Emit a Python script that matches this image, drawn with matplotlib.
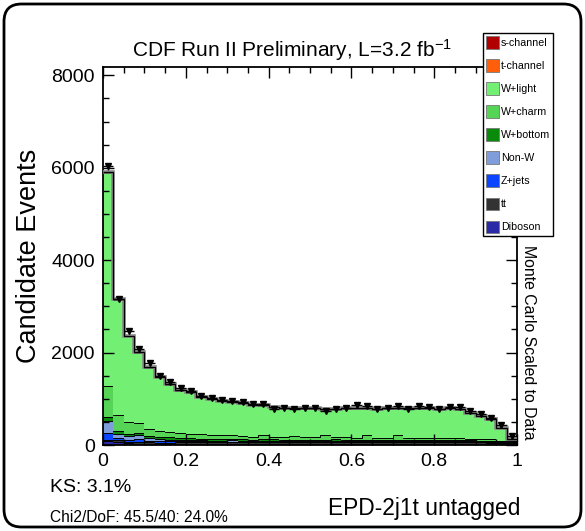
import numpy as np
import matplotlib
matplotlib.use('Agg')
import matplotlib.pyplot as plt
from matplotlib.patches import Patch, FancyBboxPatch
from matplotlib.ticker import MultipleLocator

plt.rcParams['font.family'] = ['Liberation Sans', 'DejaVu Sans']
plt.rcParams['mathtext.fontset'] = 'custom'
plt.rcParams['mathtext.rm'] = 'Liberation Sans'
plt.rcParams['mathtext.it'] = 'Liberation Sans'

# 40 bins of the EPD discriminant
edges = np.linspace(0, 1, 41)

diboson = [80, 60, 35, 30, 25, 22, 20, 20, 18, 18, 16, 16, 15, 15, 15, 14, 14, 14, 13, 13,
           13, 13, 12, 12, 12, 12, 12, 12, 12, 12, 12, 12, 12, 12, 12, 12, 10, 10, 8, 6]
ttbar = [20, 45, 25, 31, 30, 30, 32, 35, 38, 40, 42, 44, 45, 46, 46, 47, 47, 48, 48, 48,
         49, 49, 49, 50, 50, 50, 50, 50, 50, 50, 50, 50, 50, 50, 49, 48, 46, 44, 40, 32]
zjets = [165, 50, 45, 74, 40, 30, 26, 22, 20, 18, 16, 15, 14, 14, 13, 12, 12, 12, 11, 11,
         10, 10, 10, 10, 10, 10, 10, 9, 9, 9, 9, 9, 8, 8, 8, 8, 7, 6, 5, 4]
nonw = [255, 85, 87, 87, 60, 45, 40, 30, 25, 22, 20, 18, 25, 12, 10, 15, 20, 10, 8, 15,
        10, 8, 25, 10, 8, 10, 12, 10, 15, 8, 10, 15, 8, 8, 10, 8, 8, 15, 6, 4]
wbottom = [95, 60, 52, 44, 50, 45, 45, 42, 40, 40, 38, 36, 36, 35, 34, 33, 33, 32, 32, 31,
           31, 30, 30, 30, 29, 29, 29, 28, 28, 28, 28, 27, 27, 27, 26, 25, 23, 21, 17, 12]
wcharm = [653, 343, 253, 203, 148, 129, 125, 117, 103, 105, 82, 78, 72, 71, 60, 101, 52, 62, 88, 60,
          65, 97, 38, 52, 51, 96, 43, 47, 93, 49, 47, 43, 45, 45, 40, 39, 31, 24, 19, 22]
wlight = [4627, 2495, 1852, 1530, 1320, 1169, 1021, 913, 885, 791, 772, 744, 720, 699, 684, 630, 629, 624, 597, 609,
          604, 560, 613, 618, 622, 575, 621, 626, 580, 626, 631, 626, 627, 632, 622, 553, 499, 431, 271, 37]
tchan = [14, 10, 9, 9, 8, 8, 8, 7, 7, 7, 7, 7, 6, 6, 6, 6, 6, 6, 6, 6,
         6, 6, 6, 6, 6, 6, 6, 6, 6, 6, 6, 6, 6, 6, 6, 5, 5, 4, 3, 2]
schan = [3, 2, 2, 2, 2, 2, 2, 2, 2, 2, 2, 2, 2, 2, 2, 2, 2, 2, 2, 2,
         2, 2, 2, 2, 2, 2, 2, 2, 2, 2, 2, 2, 2, 2, 2, 2, 1, 1, 1, 1]

data = [6030, 3170, 2475, 2080, 1770, 1500, 1370, 1240, 1173, 1064, 1020, 980, 960, 933, 878, 883, 789, 802, 789, 802,
        796, 745, 789, 802, 855, 850, 789, 802, 850, 789, 850, 824, 789, 824, 824, 745, 665, 592, 430, 185]

# bottom to top of the stack
stack = [
    ('Diboson', diboson, '#2a2aa8'),
    ('tt', ttbar, '#333333'),
    ('Z+jets', zjets, '#0a46ff'),
    ('Non-W', nonw, '#7f9ddb'),
    ('W+bottom', wbottom, '#0a8a0a'),
    ('W+charm', wcharm, '#56d456'),
    ('W+light', wlight, '#73f073'),
    ('t-channel', tchan, '#ff5f0a'),
    ('s-channel', schan, '#b00000'),
]

W, H = 585, 531
fig = plt.figure(figsize=(W / 100, H / 100), dpi=100)
ax = fig.add_axes([103 / W, 1 - 445 / H, (517 - 103) / W, (445 - 67) / H])

base = np.zeros(40)
for name, vals, col in stack:
    top = base + np.array(vals)
    ax.stairs(top, edges, baseline=base, fill=True, color=col, lw=0)
    ax.stairs(top, edges, baseline=None, color='black', lw=0.7)
    base = top

ax.stairs(base, edges, baseline=None, color='#888888', lw=2.6, zorder=3)
ax.stairs(base, edges, baseline=None, color='black', lw=0.9, zorder=4)

centers = 0.5 * (edges[:-1] + edges[1:])
data = np.array(data)
ax.errorbar(centers, data, yerr=np.sqrt(data), xerr=0.0125, fmt='v', color='black',
            ms=4.5, lw=1.0, capsize=0, zorder=5)

ax.set_xlim(0, 1)
ax.set_ylim(0, 8180)
ax.set_xticks([0, 0.2, 0.4, 0.6, 0.8, 1.0])
ax.set_xticklabels(['0', '0.2', '0.4', '0.6', '0.8', '1'])
ax.set_yticks([0, 2000, 4000, 6000, 8000])
ax.xaxis.set_minor_locator(MultipleLocator(0.05))
ax.yaxis.set_minor_locator(MultipleLocator(500))
ax.tick_params(which='both', direction='in', top=True, right=True, labelsize=14, width=1.0)
ax.tick_params(which='major', length=8, pad=6)
ax.tick_params(which='minor', length=4)
for s in ax.spines.values():
    s.set_linewidth(1.3)

ax.set_ylabel('Candidate Events', fontsize=19.5)
ax.yaxis.set_label_coords(-0.147, 0.5)

fig.text(292 / W, 1 - 50 / H, r'CDF Run II Preliminary, L=3.2 fb$^{-1}$',
         ha='center', va='center', fontsize=15)
fig.text(50 / W, 1 - 488 / H, 'KS: 3.1%', ha='left', va='center', fontsize=14)
fig.text(50 / W, 1 - 518 / H, 'Chi2/DoF: 45.5/40: 24.0%', ha='left', va='center', fontsize=11.2)
fig.text(520 / W, 1 - 509 / H, 'EPD-2j1t untagged', ha='right', va='center', fontsize=16.4)
fig.text(529 / W, 1 - 342 / H, 'Monte Carlo Scaled to Data', rotation=-90,
         ha='center', va='center', fontsize=11.4)

handles = [Patch(facecolor=col, edgecolor='#777777', lw=0.6, label=name)
           for name, vals, col in stack[::-1]]
leg = fig.legend(handles=handles, loc='upper left', bbox_to_anchor=(483 / W, 1 - 33 / H),
                 fontsize=7.7, handlelength=1.2, handleheight=1.4, handletextpad=0.15,
                 labelspacing=1.0, borderpad=0.3, borderaxespad=0, fancybox=False,
                 framealpha=1, edgecolor='black')
leg.get_frame().set_linewidth(1.0)

fig.patches.append(FancyBboxPatch((4 / W, 4 / H), (W - 8) / W, (H - 8) / H,
                                  boxstyle='round,pad=0,rounding_size=0.03',
                                  mutation_aspect=W / H, transform=fig.transFigure,
                                  fill=False, lw=2, edgecolor='black'))

fig.savefig('out.png', dpi=100)
